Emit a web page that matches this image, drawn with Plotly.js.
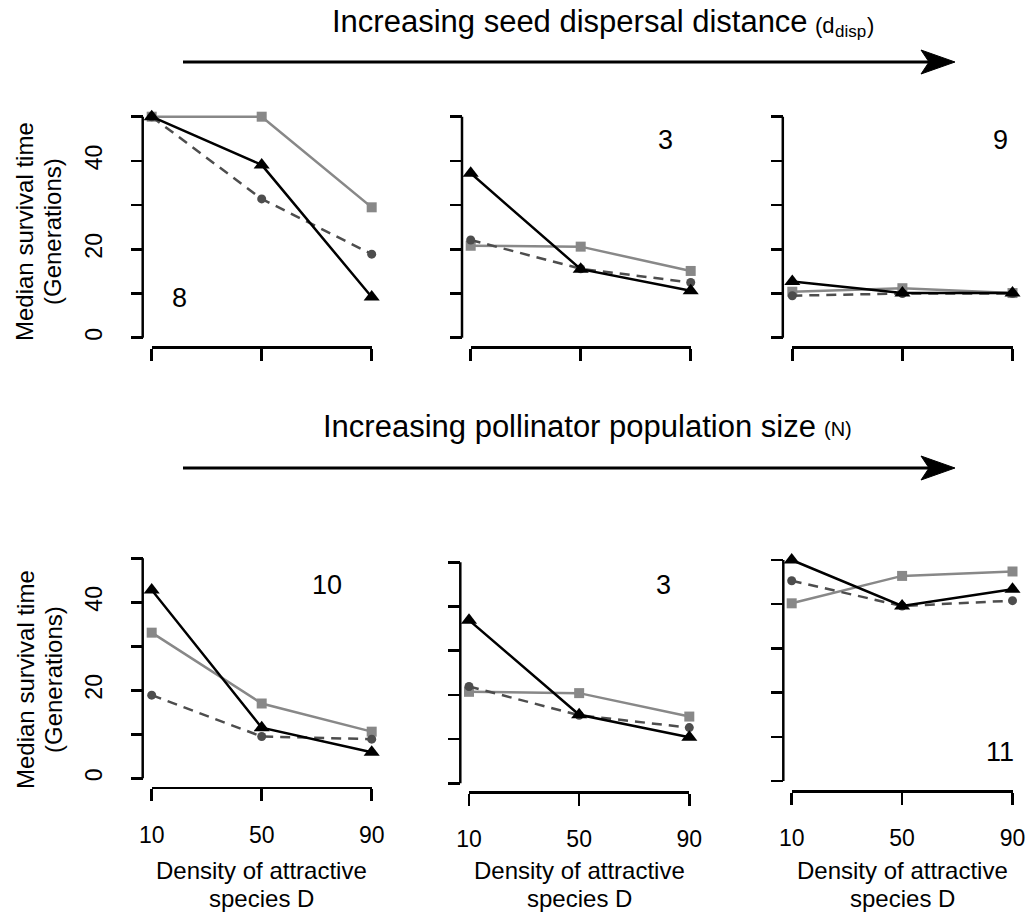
<!DOCTYPE html>
<html><head><meta charset="utf-8">
<script src="https://cdn.plot.ly/plotly-3.0.1.min.js"></script>
<style>html,body{margin:0;padding:0;background:#fff;overflow:hidden}</style>
</head><body><div id="chart" style="width:1026px;height:914px"></div>
<script>
// ---------------- data ----------------
const densities = [10, 50, 90];
const xTickLabels = ['10', '50', '90'];
const yLabelValues = [0, 20, 40];
const yLabelTexts = ['0', '20', '40'];
const yAllTickValues = [0, 10, 20, 30, 40, 50];
const yMinorTickValues = [10, 30, 50];
const panelLabels = ['8', '3', '9', '10', '3', '11'];
// panel order: top-left, top-middle, top-right, bottom-left, bottom-middle, bottom-right
const squareValues = [
  [50, 50, 29.5],
  [20.8, 20.6, 15.1],
  [10.4, 11.2, 10.1],
  [33.1, 17.0, 10.6],
  [20.7, 20.4, 15.1],
  [40.2, 46.4, 47.4]
];
const circleValues = [
  [50, 31.4, 18.9],
  [22.1, 15.6, 12.5],
  [9.5, 10.0, 10.0],
  [18.9, 9.5, 8.9],
  [21.9, 15.4, 12.6],
  [45.3, 39.6, 40.8]
];
const triangleValues = [
  [50, 39.1, 9.2],
  [37.2, 15.5, 10.6],
  [12.7, 10.1, 10.1],
  [42.8, 11.5, 5.9],
  [36.9, 15.5, 10.4],
  [50.0, 39.6, 43.4]
];
const topTitle = 'Increasing seed dispersal distance';
const topTitleSymbol = ['(d', 'disp', ')'];
const bottomTitle = 'Increasing pollinator population size';
const bottomTitleSymbol = '(N)';
const yTitleLines = ['Median survival time', '(Generations)'];
const xTitleLines = ['Density of attractive', 'species D'];

// ---------------- geometry (pixels) ----------------
const W = 1026, H = 914;
const fx = p => p / W;
const fy = p => 1 - p / H;
const geom = [
  {x10: 151.7, x90: 371.7, y0: 337.7, y50: 116.7, yAxisX: 142.7, xAxisY: 347.3, lab: [179, 298], row: 0},
  {x10: 470.7, x90: 690.7, y0: 337.7, y50: 116.7, yAxisX: 462.0, xAxisY: 347.0, lab: [665, 140], row: 0},
  {x10: 792.3, x90: 1012.5, y0: 337.7, y50: 116.7, yAxisX: 782.8, xAxisY: 347.0, lab: [1000, 140], row: 0},
  {x10: 151.7, x90: 371.7, y0: 778.3, y50: 558.3, yAxisX: 142.7, xAxisY: 787.7, lab: [327, 585], row: 1},
  {x10: 469.0, x90: 689.3, y0: 783.3, y50: 562.3, yAxisX: 460.3, xAxisY: 792.3, lab: [663, 585], row: 1},
  {x10: 791.7, x90: 1012.5, y0: 781.0, y50: 560.0, yAxisX: 783.3, xAxisY: 791.0, lab: [1000, 752], row: 1}
];

const FONT = 'Liberation Sans, Arial, sans-serif';
const traces = [];
const layout = {
  width: W, height: H,
  margin: {l: 0, r: 0, t: 0, b: 0},
  paper_bgcolor: '#fff', plot_bgcolor: 'rgba(0,0,0,0)',
  showlegend: false,
  font: {family: FONT, color: '#000'},
  annotations: [], shapes: []
};
const pad = 0.5;
function addText(text, px, py, size, xanchor, angle) {
  layout.annotations.push({xref: 'paper', yref: 'paper', x: fx(px), y: fy(py),
    text: text, showarrow: false, xanchor: xanchor || 'center', yanchor: 'middle',
    textangle: angle || 0, font: {family: FONT, size: size, color: '#000'}});
}

geom.forEach((g, i) => {
  const n = i + 1;
  const sfx = n === 1 ? '' : String(n);
  const xa = 'x' + sfx, ya = 'y' + sfx;
  const k = (g.y0 - g.y50) / 50;
  const labelled = (i === 0 || i === 3);
  layout['xaxis' + sfx] = {
    domain: [fx(g.x10), fx(g.x90)], range: [10, 90],
    anchor: 'free', position: fy(g.xAxisY),
    showline: true, linecolor: '#000', linewidth: 2.5,
    ticks: 'outside', ticklen: 12, tickwidth: 2.5, tickcolor: '#000',
    tickvals: densities, ticktext: xTickLabels,
    showticklabels: g.row === 1, ticklabelstandoff: 14,
    tickfont: {family: FONT, size: 23, color: '#000'},
    showgrid: false, zeroline: false, fixedrange: true
  };
  const yax = {
    domain: [fy(g.y0 + pad * k), fy(g.y50 - pad * k)], range: [-pad, 50 + pad],
    anchor: 'free', position: fx(g.yAxisX),
    showline: false,
    ticks: 'outside', ticklen: 12, tickwidth: 2.5, tickcolor: '#000',
    tickangle: -90,
    showticklabels: labelled, ticklabelstandoff: 20,
    tickfont: {family: FONT, size: 23, color: '#000'},
    showgrid: false, zeroline: false, fixedrange: true
  };
  if (labelled) {
    yax.tickvals = yLabelValues; yax.ticktext = yLabelTexts;
    yax.minor = {tickvals: yMinorTickValues, ticks: 'outside', ticklen: 12, tickwidth: 2.5, tickcolor: '#000', showgrid: false};
  } else {
    yax.tickvals = yAllTickValues;
  }
  layout['yaxis' + sfx] = yax;
  // y axis line restricted to the 0..50 span (R style)
  layout.shapes.push({type: 'line', xref: 'paper', yref: ya, x0: fx(g.yAxisX), x1: fx(g.yAxisX),
    y0: yAllTickValues[0], y1: yAllTickValues[yAllTickValues.length - 1], line: {color: '#000', width: 2.5}});

  traces.push({x: densities, y: squareValues[i], xaxis: xa, yaxis: ya, type: 'scatter', mode: 'lines+markers',
    cliponaxis: false, line: {color: '#888888', width: 2.5},
    marker: {symbol: 'square', size: 10, color: '#888888'}});
  traces.push({x: densities, y: circleValues[i], xaxis: xa, yaxis: ya, type: 'scatter', mode: 'lines+markers',
    cliponaxis: false, line: {color: '#4d4d4d', width: 2.5, dash: '10px,7px'},
    marker: {symbol: 'circle', size: 9, color: '#4d4d4d'}});
  traces.push({x: densities, y: triangleValues[i], xaxis: xa, yaxis: ya, type: 'scatter', mode: 'lines+markers',
    cliponaxis: false, line: {color: '#000000', width: 2.5},
    marker: {symbol: 'triangle-up', size: 14, color: '#000000'}});

  addText(panelLabels[i], g.lab[0], g.lab[1], 27);
  if (g.row === 1) {
    const cx = (g.x10 + g.x90) / 2;
    addText(xTitleLines[0], cx, 870, 24);
    addText(xTitleLines[1], cx, 898, 24);
  }
});

// y titles
[232, 680].forEach(cy => {
  addText(yTitleLines[0], 25, cy, 24, 'center', -90);
  addText(yTitleLines[1], 53, cy, 24, 'center', -90);
});

// header titles
addText(topTitle, 330, 22, 31, 'left');
addText(topTitleSymbol[0], 813, 25, 22, 'left');
addText(topTitleSymbol[1], 833, 31, 17, 'left');
addText(topTitleSymbol[2], 865, 25, 22, 'left');
addText(bottomTitle, 321, 426, 31, 'left');
addText(bottomTitleSymbol, 822, 429, 20, 'left');

// arrows
[62, 468].forEach(ay => {
  layout.shapes.push({type: 'line', xref: 'paper', yref: 'paper', x0: fx(183), x1: fx(930),
    y0: fy(ay), y1: fy(ay), line: {color: '#000', width: 3}});
  const p = [[955, ay], [921, ay - 12], [929, ay], [921, ay + 12]];
  layout.shapes.push({type: 'path', xref: 'paper', yref: 'paper',
    path: 'M' + p.map(q => fx(q[0]) + ',' + fy(q[1])).join(' L') + ' Z',
    fillcolor: '#000', line: {color: '#000', width: 1}});
});

Plotly.newPlot('chart', traces, layout, {displayModeBar: false, staticPlot: true});
</script></body></html>
